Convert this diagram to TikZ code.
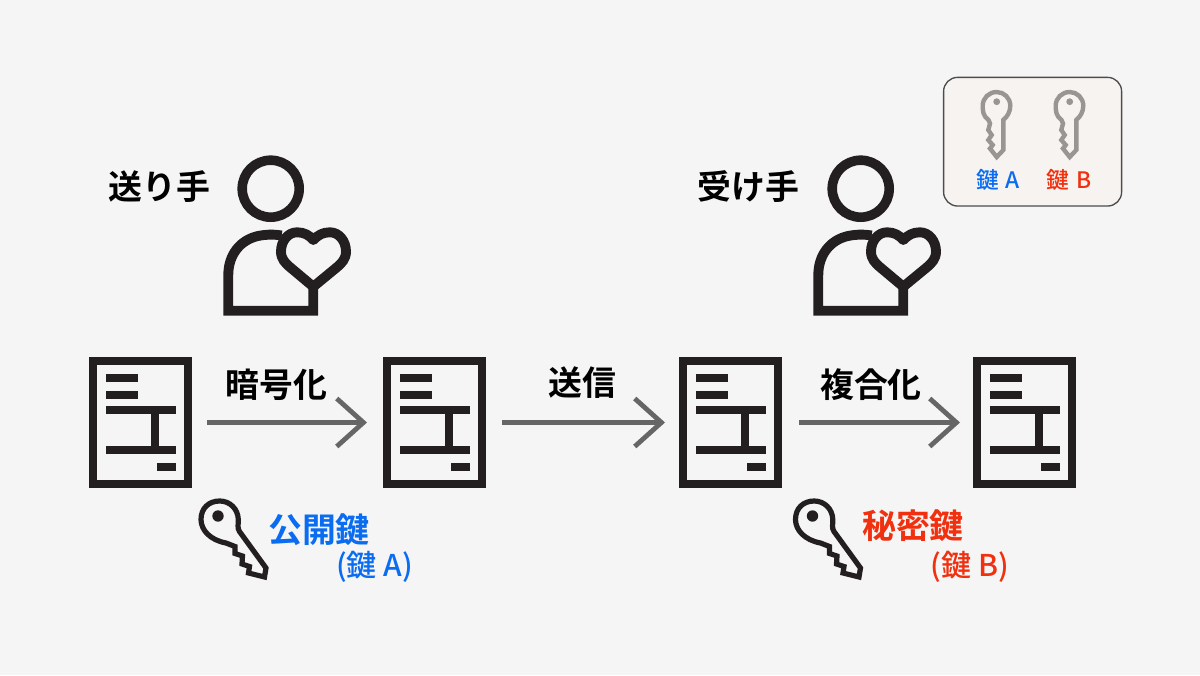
\documentclass[tikz,border=0pt]{standalone}
\usepackage{fontspec}
\usetikzlibrary{arrows.meta}
\setmainfont{Liberation Sans}
\newfontfamily\cjk{Noto Sans CJK JP Bold}
\newfontfamily\cjkm{Noto Sans CJK JP Medium}
\definecolor{bgc}{HTML}{F5F5F5}
\definecolor{ink}{HTML}{231F20}
\definecolor{flowc}{HTML}{666666}
\definecolor{blu}{HTML}{0A6CF0}
\definecolor{rd}{HTML}{F0300F}
\definecolor{keyg}{HTML}{989592}
\definecolor{legf}{HTML}{F7F3F0}
\tikzset{
  x=0.75pt,y=-0.75pt,
  docbox/.style={draw=ink,line width=6pt,minimum width=71.25pt,minimum height=92.25pt,inner sep=0pt,outer sep=3pt},
  bar/.style={fill=ink,draw=none},
  flow/.style={draw=flowc,line width=3.6pt,
     -{Straight Barb[length=20pt,width=36pt,line width=3.6pt]}},
  head/.style={font=\cjk\fontsize{25.4}{28}\selectfont,text=black,inner sep=0pt},
  kname/.style={font=\cjk\fontsize{25.4}{28}\selectfont,inner sep=0pt},
  sub/.style={font=\cjkm\fontsize{22.5}{25}\selectfont,inner sep=0pt},
  leg/.style={font=\cjkm\fontsize{17}{19}\selectfont,inner sep=0pt},
  docicon/.pic={
    \node[docbox] (-box) at (140.5,422.5) {};
    \fill[bar] (105.5,374) rectangle (138,382);
    \fill[bar] (105.5,390.5) rectangle (138,398.5);
    \fill[bar] (106,406) rectangle (176,414);
    \fill[bar] (106,446) rectangle (176,454);
    \fill[bar] (151,410) rectangle (159,450);
    \fill[bar] (157,462.5) rectangle (176,470.5);
  },
  person/.pic={
    \draw[ink,line width=7.2pt] (270.7,188.7) circle[radius=28.5];
    \draw[ink,line width=7.4pt,line join=miter] (281.7,235.5)
      .. controls (272,234) and (266,234.5) .. (258,236)
      .. controls (240,240) and (228.3,255) .. (228.3,275)
      -- (228.3,310.7) -- (313.3,310.7) -- (313.3,286.7);
    \draw[ink,line width=7.4pt,line join=round] (313.3,286.7) -- (291,268)
      .. controls (285,263) and (281,259) .. (281,251.5)
      .. controls (281,241) and (288,232.3) .. (297,232.3)
      .. controls (304,232.3) and (309,235) .. (313.3,240)
      .. controls (318,235) and (323,232.3) .. (330,232.3)
      .. controls (339,232.3) and (346,241) .. (346,251.5)
      .. controls (346,259) and (342,263) .. (336,268) -- cycle;
  },
  bigkey/.pic={
    \draw[ink,line width=3.9pt,line join=miter] (49.5,41.5) -- (76,78) -- (74.5,87)
      -- (58.5,83) -- (59.5,76.5) -- (52,74) -- (52.5,66) -- (45,63.5) -- (45,56.5) -- (36,53)
      .. controls (20,50) and (11,40) .. (11,29.5)
      .. controls (11,18) and (19,11) .. (29.7,11)
      .. controls (40,11) and (48,19) .. (48.3,29.5)
      .. controls (48.5,34) and (47,38) .. (49.5,41.5) -- cycle;
    \fill[ink] (28,26) circle[radius=5.7];
  },
  smallkey/.pic={
    \draw[keyg,line width=3.3pt,line join=miter] (33.3,35) -- (33.3,65) -- (26.7,72) -- (20,63.5)
      -- (22.7,60) -- (18.3,55) -- (21.7,50) -- (18.3,45) -- (20,38.5) -- (18.5,35)
      .. controls (13,31) and (12.7,26) .. (12.7,20.7)
      .. controls (12.7,13) and (19,7) .. (26.7,7)
      .. controls (34,7) and (40.3,13) .. (40.3,20.7)
      .. controls (40.3,27) and (37,32) .. (33.3,35) -- cycle;
    \fill[keyg] (26.7,16.7) circle[radius=3.4];
  }
}
\newcommand{\K}{鍵}
\begin{document}
\begin{tikzpicture}
\useasboundingbox[fill=bgc] (0,0) rectangle (1200,675);

\node[draw=black!70,line width=1pt,fill=legf,rounded corners=10.5pt,minimum width=133.5pt,minimum height=96.5pt,inner sep=0pt] (legend) at (1032.6,141.7) {};
\pic (ka) at (970,85) {smallkey};
\pic (kb) at (1043,85) {smallkey};
\node[leg,text=blu] (lega) at (998,180) {\K\hspace{5pt}A};
\node[leg,text=rd] (legb) at (1069,180) {\K\hspace{5pt}B};

\node[head] (sender) at (159.5,187) {送り手};
\node[head] (receiver) at (748.5,187) {受け手};
\pic (p1) at (0,0) {person};
\pic (p2) at (590,0) {person};

\pic (d1) at (0,0) {docicon};
\pic (d2) at (294,0) {docicon};
\pic (d3) at (590,0) {docicon};
\pic (d4) at (884,0) {docicon};

\draw[flow,shorten <=11.25pt,shorten >=12pt] (d1-box) -- (d2-box);
\draw[flow,shorten <=12pt,shorten >=10.5pt] (d2-box) -- (d3-box);
\draw[flow,shorten <=12.75pt,shorten >=9.75pt] (d3-box) -- (d4-box);

\node[head] (enc) at (276.5,385) {暗号化};
\node[head] (snd) at (582,383) {送信};
\node[head] (dec) at (871,385) {複合化};

\pic (k1) at (190,490) {bigkey};
\pic (k2) at (784.5,490) {bigkey};
\node[kname,text=blu] (pub) at (319,530) {公開鍵};
\node[sub,text=blu] (puba) at (374.5,567) {(\K\hspace{5pt}A)};
\node[kname,text=rd] (sec) at (913,526) {秘密鍵};
\node[sub,text=rd] (secb) at (970,567) {(\K\hspace{5pt}B)};
\end{tikzpicture}
\end{document}
